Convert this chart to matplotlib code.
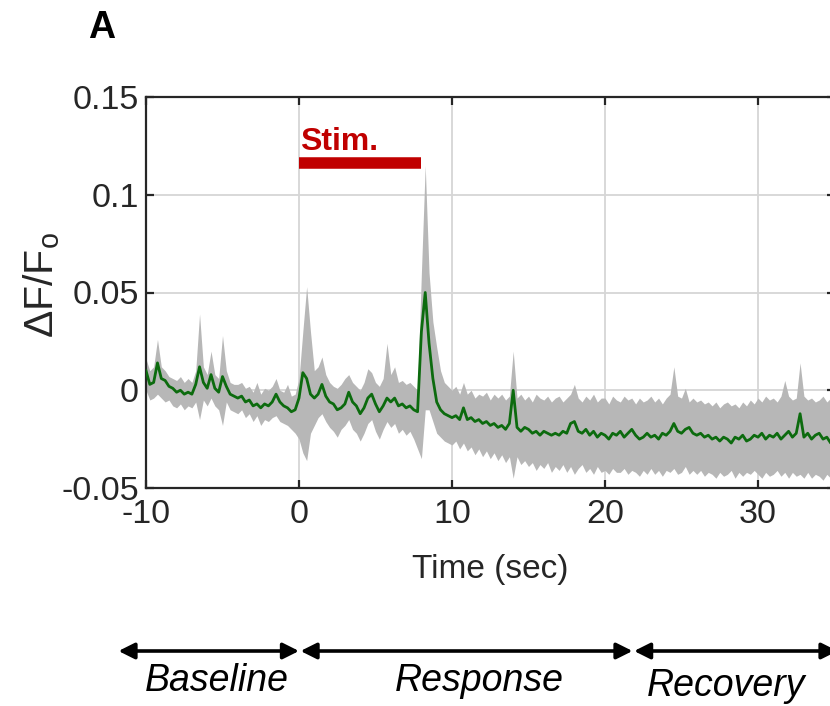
import numpy as np
import matplotlib
matplotlib.use("Agg")
import matplotlib.pyplot as plt

plt.rcParams['font.family'] = ['Liberation Sans', 'DejaVu Sans']
plt.rcParams['mathtext.fontset'] = 'custom'
plt.rcParams['mathtext.rm'] = 'Liberation Sans'
plt.rcParams['mathtext.it'] = 'Liberation Sans:italic'

# ---- data ----
t_start = -10.0
dt = 0.25  # sampling interval of the traces (s)

mean_trace = [
    0.010, 0.003, 0.004, 0.014,  0.006, 0.005, 0.002, 0.001,
    -0.001, 0.000, -0.002, -0.001,  -0.002, 0.003, 0.012, 0.004,
    0.001, 0.008, 0.001, -0.001,  0.007, 0.002, -0.002, -0.003,
    -0.004, -0.003, -0.006, -0.005,  -0.008, -0.007, -0.009, -0.007,
    -0.008, -0.006, -0.002, -0.006,  -0.008, -0.009, -0.011, -0.010,
    # t = 0
    -0.004, 0.009, 0.006, -0.002,  -0.004, -0.002, 0.003, -0.003,
    -0.006, -0.007, -0.010, -0.009,  -0.007, -0.001, -0.006, -0.008,
    -0.012, -0.009, -0.004, -0.002,  -0.007, -0.011, -0.008, -0.004,
    -0.006, -0.004, -0.008, -0.007,  -0.009, -0.008, -0.010, -0.011,
    0.030, 0.050, 0.024, 0.006,  -0.006, -0.010, -0.012, -0.013,
    # t = 10
    -0.014, -0.013, -0.015, -0.009,  -0.015, -0.014, -0.016, -0.015,
    -0.017, -0.016, -0.018, -0.017,  -0.019, -0.018, -0.020, -0.017,
    0.000, -0.019, -0.021, -0.019,  -0.020, -0.022, -0.021, -0.023,
    -0.021, -0.022, -0.023, -0.022,  -0.023, -0.021, -0.022, -0.017,
    -0.016, -0.021, -0.022, -0.020,  -0.023, -0.021, -0.024, -0.022,
    # t = 20
    -0.023, -0.025, -0.022, -0.023,  -0.021, -0.024, -0.022, -0.020,
    -0.023, -0.025, -0.024, -0.022,  -0.024, -0.023, -0.025, -0.022,
    -0.023, -0.021, -0.017, -0.021,  -0.022, -0.020, -0.019, -0.022,
    -0.023, -0.022, -0.024, -0.023,  -0.025, -0.024, -0.026, -0.024,
    -0.025, -0.027, -0.024, -0.025,  -0.023, -0.026, -0.025, -0.023,
    # t = 30
    -0.024, -0.022, -0.025, -0.023,  -0.024, -0.022, -0.025, -0.023,
    -0.021, -0.024, -0.022, -0.012,  -0.024, -0.022, -0.025, -0.023,
    -0.022, -0.025, -0.024, -0.027,
    -0.026,
]

upper_band = [
    0.016, 0.010, 0.012, 0.026,  0.012, 0.010, 0.007, 0.006,
    0.005, 0.007, 0.004, 0.006,  0.004, 0.010, 0.039, 0.012,
    0.008, 0.020, 0.008, 0.006,  0.028, 0.010, 0.004, 0.003,
    0.003, 0.004, 0.001, 0.002,  -0.001, 0.004, -0.002, 0.001,
    0.000, 0.002, 0.006, 0.000,  -0.001, 0.003, -0.003, -0.002,
    # t = 0
    0.006, 0.030, 0.053, 0.030,  0.010, 0.012, 0.017, 0.008,
    0.004, 0.002, 0.001, 0.003,  0.006, 0.008, 0.004, 0.002,
    0.000, 0.004, 0.011, 0.009,  0.004, 0.002, 0.006, 0.024,
    0.008, 0.012, 0.004, 0.005,  0.003, 0.004, 0.002, 0.000,
    0.060, 0.115, 0.060, 0.035,  0.022, 0.010, 0.004, 0.002,
    # t = 10
    0.000, 0.002, -0.002, 0.004,  -0.002, 0.000, -0.004, -0.002,
    -0.003, -0.001, -0.005, -0.002,  -0.004, -0.002, -0.005, -0.003,
    0.020, -0.004, -0.002, -0.005,  -0.003, -0.006, -0.002, -0.004,
    -0.005, -0.003, -0.006, -0.004,  -0.003, -0.006, -0.004, -0.002,
    0.003, -0.004, -0.006, -0.003,  -0.005, -0.002, -0.006, -0.004,
    # t = 20
    -0.004, -0.007, -0.003, -0.005,  -0.006, -0.003, -0.005, -0.004,
    -0.007, -0.004, -0.006, -0.005,  -0.003, -0.006, -0.004, -0.007,
    -0.004, -0.002, 0.012, -0.003,  -0.004, 0.001, -0.006, -0.004,
    -0.006, -0.005, -0.007, -0.006,  -0.008, -0.006, -0.009, -0.007,
    -0.006, -0.008, -0.007, -0.009,  -0.006, -0.008, -0.005, -0.007,
    # t = 30
    -0.004, -0.006, -0.003, -0.005,  -0.004, -0.006, -0.003, 0.005,
    -0.003, -0.005, -0.004, 0.014,  -0.003, -0.005, -0.004, -0.006,
    -0.005, -0.003, -0.006, -0.004,
    -0.006,
]

lower_band = [
    0.000, -0.005, -0.004, -0.002,  -0.004, -0.006, -0.005, -0.008,
    -0.009, -0.007, -0.010, -0.008,  -0.009, -0.006, -0.015, -0.005,
    -0.008, -0.004, -0.008, -0.010,  -0.018, -0.006, -0.010, -0.011,
    -0.012, -0.010, -0.014, -0.012,  -0.016, -0.013, -0.018, -0.015,
    -0.016, -0.014, -0.013, -0.016,  -0.017, -0.018, -0.020, -0.022,
    # t = 0
    -0.025, -0.032, -0.036, -0.022,  -0.018, -0.014, -0.012, -0.016,
    -0.019, -0.021, -0.024, -0.020,  -0.018, -0.015, -0.020, -0.022,
    -0.026, -0.022, -0.017, -0.015,  -0.021, -0.025, -0.020, -0.016,
    -0.019, -0.017, -0.022, -0.020,  -0.023, -0.021, -0.025, -0.030,
    -0.035, -0.010, -0.010, -0.016,  -0.022, -0.024, -0.026, -0.027,
    # t = 10
    -0.028, -0.026, -0.030, -0.027,  -0.031, -0.029, -0.033, -0.030,
    -0.034, -0.031, -0.035, -0.032,  -0.036, -0.033, -0.037, -0.034,
    -0.045, -0.034, -0.038, -0.036,  -0.039, -0.037, -0.041, -0.038,
    -0.040, -0.037, -0.042, -0.039,  -0.041, -0.038, -0.042, -0.039,
    -0.043, -0.040, -0.038, -0.042,  -0.040, -0.043, -0.039, -0.042,
    # t = 20
    -0.041, -0.043, -0.040, -0.042,  -0.042, -0.040, -0.043, -0.041,
    -0.042, -0.044, -0.041, -0.043,  -0.040, -0.043, -0.041, -0.044,
    -0.041, -0.042, -0.040, -0.043,  -0.042, -0.039, -0.043, -0.041,
    -0.043, -0.041, -0.044, -0.042,  -0.043, -0.045, -0.042, -0.044,
    -0.043, -0.041, -0.045, -0.042,  -0.044, -0.042, -0.043, -0.041,
    # t = 30
    -0.043, -0.045, -0.042, -0.044,  -0.043, -0.041, -0.044, -0.042,
    -0.045, -0.042, -0.044, -0.043,  -0.045, -0.042, -0.045, -0.043,
    -0.044, -0.046, -0.043, -0.045,
    -0.045,
]

stim_on, stim_off = 0.0, 8.0
stim_level = 0.116

x_ticks = [-10, 0, 10, 20, 30]
y_ticks = [-0.05, 0, 0.05, 0.1, 0.15]
y_tick_labels = ['-0.05', '0', '0.05', '0.1', '0.15']

phases = ['Baseline', 'Response', 'Recovery']
phase_bounds = [(-11.8, 0.0), (0.1, 21.8), (21.9, 35.2)]
phase_label_x = [-5.35, 11.8, 27.9]

# ---- figure ----
time = t_start + dt * np.arange(len(mean_trace))

fig = plt.figure(figsize=(8.30, 7.06), dpi=100)
ax = fig.add_axes([146 / 830, 218 / 706, 688.5 / 830, 391 / 706])

ax.fill_between(time, lower_band, upper_band, color='#b7b7b7', lw=0, zorder=2)
ax.plot(time, mean_trace, color='#0c6b0e', lw=2.0, zorder=3)

ax.plot([stim_on, stim_off], [stim_level, stim_level], color='#c00000',
        lw=8.3, solid_capstyle='butt', zorder=4)
ax.text(stim_on + 0.1, 0.1228, 'Stim.', color='#c00000',
        fontsize=23, fontweight='bold', ha='left', va='baseline', zorder=4)

ax.set_xlim(-10, 35)
ax.set_ylim(-0.05, 0.15)
ax.set_xticks(x_ticks)
ax.set_xticklabels([str(v) for v in x_ticks])
ax.set_yticks(y_ticks)
ax.set_yticklabels(y_tick_labels)
ax.grid(True, color='#d6d6d6', lw=1.3, zorder=0)
ax.set_axisbelow(True)

for s in ax.spines.values():
    s.set_color('#262626')
    s.set_linewidth(1.6)
ax.tick_params(direction='in', length=6, width=1.6, colors='#262626',
               labelsize=24.5, top=True, right=True)
ax.tick_params(axis='y', pad=5)
ax.tick_params(axis='x', pad=8)
for lab in ax.get_xticklabels() + ax.get_yticklabels():
    lab.set_color('#262626')

ax.set_xlabel('Time (sec)', fontsize=24, color='#262626')
ax.xaxis.set_label_coords(0.4996, -0.168)
ax.set_ylabel(r'$\Delta$F/F$_{\mathrm{o}}$', fontsize=29.5, color='#262626')
ax.yaxis.set_label_coords(-0.122, 0.52)

fig.text(102 / 830, 1 - 28 / 706, 'A', fontsize=27, fontweight='bold',
         ha='center', va='center')

# phase arrows below the axes
arrow_y = 1 - 651 / 706
label_y = 1 - 681 / 706
for name, (a, b), lx in zip(phases, phase_bounds, phase_label_x):
    ax.annotate('', xy=(b, arrow_y), xytext=(a, arrow_y),
                xycoords=('data', 'figure fraction'),
                textcoords=('data', 'figure fraction'),
                annotation_clip=False,
                arrowprops=dict(arrowstyle='<|-|>', color='black', lw=2.6,
                                mutation_scale=24, shrinkA=0, shrinkB=0))
    yy = label_y - (0.007 if name == 'Recovery' else 0)
    ax.annotate(name, xy=(lx, yy), xycoords=('data', 'figure fraction'),
                ha='center', va='center', fontsize=27, style='italic',
                annotation_clip=False)

fig.savefig('out.png', dpi=100)
